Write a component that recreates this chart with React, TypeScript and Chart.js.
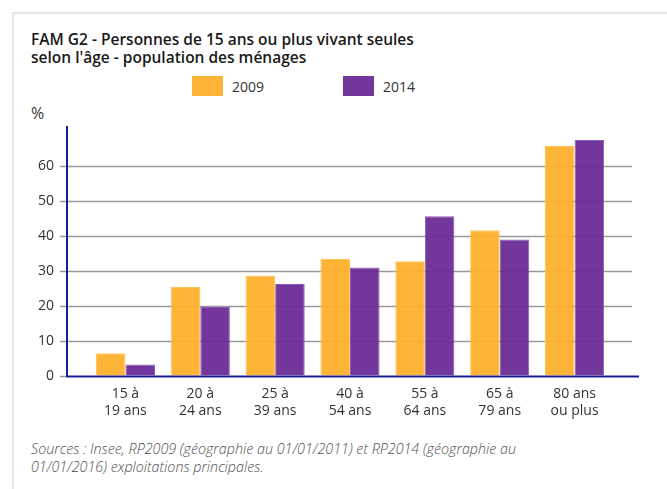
import React, { useEffect, useRef } from "react";
import { Chart, registerables } from "chart.js";

Chart.register(...registerables);

const categories: string[][] = [
  ["15 à", "19 ans"],
  ["20 à", "24 ans"],
  ["25 à", "39 ans"],
  ["40 à", "54 ans"],
  ["55 à", "64 ans"],
  ["65 à", "79 ans"],
  ["80 ans", "ou plus"],
];
const values2009: number[] = [6.5, 25.4, 28.6, 33.4, 32.8, 41.6, 65.7];
const values2014: number[] = [3.3, 19.7, 26.3, 31.0, 45.6, 39.0, 67.4];
const yTicks: number[] = [0, 10, 20, 30, 40, 50, 60];
const legendLabels: string[] = ["2009", "2014"];

const ORANGE = "rgba(253,176,44,0.95)";
const ORANGE_B = "rgba(255,196,90,1)";
const PURPLE = "rgba(108,44,150,0.95)";
const PURPLE_B = "rgba(140,90,180,1)";
const FONT = "'Open Sans', sans-serif";

const framePlugin = {
  id: "framePlugin",
  beforeDatasetsDraw(chart: any) {
    const { ctx, chartArea, scales } = chart;
    const y = scales.y;
    ctx.save();
    ctx.strokeStyle = "#9a9a9a";
    ctx.lineWidth = 1.5;
    yTicks.forEach((v) => {
      if (v === 0) return;
      const py = Math.round(y.getPixelForValue(v)) + 0.5;
      ctx.beginPath();
      ctx.moveTo(chartArea.left - 28, py);
      ctx.lineTo(chartArea.right + 20, py);
      ctx.stroke();
    });
    ctx.restore();
  },
  afterDatasetsDraw(chart: any) {
    const { ctx, chartArea, scales } = chart;
    const y = scales.y;
    ctx.save();
    const p0 = Math.round(y.getPixelForValue(0)) + 0.5;
    ctx.strokeStyle = "#9a9a9a";
    ctx.lineWidth = 1.5;
    ctx.beginPath();
    ctx.moveTo(chartArea.left - 28, p0);
    ctx.lineTo(chartArea.left - 21, p0);
    ctx.stroke();
    ctx.strokeStyle = "#1c1c96";
    ctx.lineWidth = 2;
    ctx.beginPath();
    ctx.moveTo(chartArea.left - 21, chartArea.top);
    ctx.lineTo(chartArea.left - 21, p0);
    ctx.lineTo(chartArea.right + 27, p0);
    ctx.stroke();
    ctx.restore();
  },
};

export default function App() {
  const ref = useRef<HTMLCanvasElement | null>(null);

  useEffect(() => {
    if (!ref.current) return;
    const chart = new Chart(ref.current, {
      type: "bar",
      data: {
        labels: categories,
        datasets: [
          {
            label: legendLabels[0],
            data: values2009,
            backgroundColor: ORANGE,
            borderColor: ORANGE_B,
            borderWidth: 1,
            categoryPercentage: 0.79,
            barPercentage: 1,
          },
          {
            label: legendLabels[1],
            data: values2014,
            backgroundColor: PURPLE,
            borderColor: PURPLE_B,
            borderWidth: 1,
            categoryPercentage: 0.79,
            barPercentage: 1,
          },
        ],
      },
      options: {
        animation: false,
        responsive: false,
        maintainAspectRatio: false,
        layout: { padding: { left: 0, right: 55, top: 10, bottom: 0 } },
        plugins: {
          legend: { display: false },
          tooltip: { enabled: false },
        },
        scales: {
          x: {
            offset: true,
            grid: { display: false, drawTicks: false },
            border: { display: false },
            ticks: {
              color: "#333",
              font: { family: FONT, size: 14 },
              padding: 10,
              maxRotation: 0,
              autoSkip: false,
            },
            afterFit(scale: any) {
              scale.height = 50;
            },
          },
          y: {
            min: 0,
            max: 71.4,
            grid: {
              display: true,
              drawOnChartArea: false,
              drawTicks: true,
              tickLength: 34,
              color: "rgba(0,0,0,0)",
            },
            border: { display: false },
            afterBuildTicks(scale: any) {
              scale.ticks = yTicks.map((v) => ({ value: v }));
            },
            ticks: {
              color: "#333",
              font: { family: FONT, size: 14 },
              padding: 0,
            },
            afterFit(scale: any) {
              scale.width = 88;
            },
          },
        },
      },
      plugins: [framePlugin],
    });
    return () => chart.destroy();
  }, []);

  const legendItem = (color: string, label: string, left: number) => (
    <div style={{ position: "absolute", left, top: 76, display: "flex", alignItems: "center" }}>
      <div style={{ width: 31, height: 20, background: color }} />
      <span style={{ marginLeft: 9, fontSize: 14, color: "#333" }}>{label}</span>
    </div>
  );

  return (
    <div
      style={{
        position: "absolute",
        left: 0,
        top: 0,
        width: 667,
        height: 489,
        overflow: "hidden",
        background: "#fff",
        fontFamily: FONT,
      }}
    >
      <div
        style={{
          position: "absolute",
          left: 12,
          top: 12,
          width: 700,
          height: 520,
          border: "2px solid #e5e5e5",
        }}
      />
      <div
        style={{
          position: "absolute",
          left: 31,
          top: 30,
          fontSize: 15.5,
          fontWeight: 600,
          lineHeight: "18px",
          color: "#1a1a1a",
        }}
      >
        FAM G2 - Personnes de 15 ans ou plus vivant seules
        <br />
        selon l'âge - population des ménages
      </div>
      {legendItem(ORANGE, legendLabels[0], 192)}
      {legendItem(PURPLE, legendLabels[1], 343)}
      <div style={{ position: "absolute", left: 31, top: 102, fontSize: 16, color: "#333" }}>%</div>
      <canvas
        ref={ref}
        width={667}
        height={310}
        style={{ position: "absolute", left: 0, top: 116, width: 667, height: 310 }}
      />
      <div
        style={{
          position: "absolute",
          left: 31,
          top: 440,
          fontSize: 14.3,
          fontStyle: "italic",
          fontWeight: 300,
          lineHeight: "18px",
          color: "#505050",
        }}
      >
        Sources : Insee, RP2009 (géographie au 01/01/2011) et RP2014 (géographie au
        <br />
        01/01/2016) exploitations principales.
      </div>
    </div>
  );
}
